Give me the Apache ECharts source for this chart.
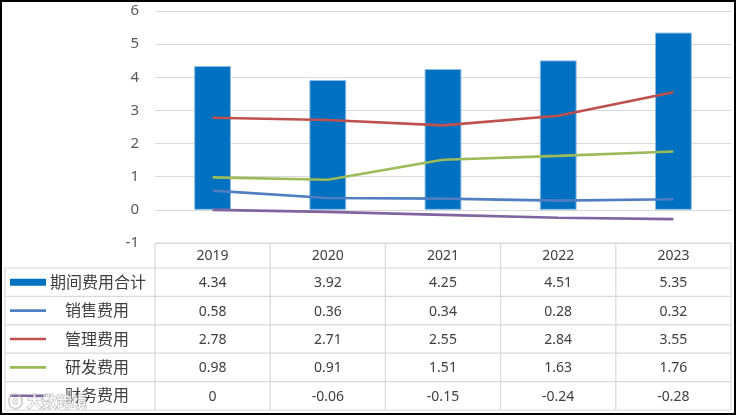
<!DOCTYPE html>
<html>
<head>
<meta charset="utf-8">
<script src="https://cdn.jsdelivr.net/npm/echarts@6/dist/echarts.min.js"></script>
<style>
html,body{margin:0;padding:0;background:#fff;}
#c{width:736px;height:415px;}
</style>
</head>
<body>
<div id="c"></div>
<script>
const years = ['2019', '2020', '2021', '2022', '2023'];
const seriesNames = ['期间费用合计', '销售费用', '管理费用', '研发费用', '财务费用'];
const totalExp = [4.34, 3.92, 4.25, 4.51, 5.35];
const salesExp = [0.58, 0.36, 0.34, 0.28, 0.32];
const adminExp = [2.78, 2.71, 2.55, 2.84, 3.55];
const rdExp = [0.98, 0.91, 1.51, 1.63, 1.76];
const finExp = [0, -0.06, -0.15, -0.24, -0.28];
const yMin = -1, yMax = 6, yStep = 1;

const colors = ['#0070C0', '#4F7EC2', '#C0504D', '#9BBB59', '#8064A2'];
const allData = [totalExp, salesExp, adminExp, rdExp, finExp];
const FONT = '"Noto Sans", "Noto Sans CJK SC", sans-serif';

const chart = echarts.init(document.getElementById('c'), null, {renderer: 'canvas'});
const gridLeft = 155, gridRight = 5, gridTop = 11, gridBottom = 172;

const series = [{
  name: seriesNames[0], type: 'bar', data: totalExp, barWidth: '32%',
  itemStyle: {color: colors[0], borderColor: '#8FBCE6', borderWidth: 1},
  z: 2
}];
for (let i = 1; i < 5; i++) {
  series.push({
    name: seriesNames[i], type: 'line', data: allData[i], symbol: 'none',
    lineStyle: {color: colors[i], width: 2.6}, itemStyle: {color: colors[i]}, z: 3
  });
}

chart.setOption({
  animation: false,
  backgroundColor: '#fff',
  grid: {left: gridLeft, right: gridRight, top: gridTop, bottom: gridBottom, containLabel: false},
  xAxis: {
    type: 'category', data: years, boundaryGap: true,
    axisLine: {show: false}, axisTick: {show: false}, axisLabel: {show: false}
  },
  yAxis: {
    type: 'value', min: yMin, max: yMax, interval: yStep,
    axisLine: {show: false}, axisTick: {show: false},
    axisLabel: {color: '#595959', fontSize: 15, fontFamily: FONT, margin: 16},
    splitLine: {lineStyle: {color: '#D9D9D9', width: 1.2}}
  },
  series: series
});

// Data table under the plot
const W = 736, H = 415;
const tableTop = H - gridBottom;          // y of -1 line
const headerBottom = tableTop + 25;
const rowH = 28.4;
const tableRight = W - gridRight;
const legendLeft = 5;
const g = [];
const lineColor = '#D9D9D9';
function hline(y, x1, x2) {
  g.push({type: 'line', silent: true, shape: {x1: x1, y1: y, x2: x2, y2: y}, style: {stroke: lineColor, lineWidth: 1.2}});
}
function vline(x, y1, y2) {
  g.push({type: 'line', silent: true, shape: {x1: x, y1: y1, x2: x, y2: y2}, style: {stroke: lineColor, lineWidth: 1.2}});
}
const colW = (tableRight - gridLeft) / years.length;
const tableBottom = headerBottom + rowH * seriesNames.length;
hline(tableTop, gridLeft, tableRight);
for (let r = 0; r <= seriesNames.length; r++) hline(headerBottom + r * rowH, legendLeft, tableRight);
vline(legendLeft, headerBottom, tableBottom);
for (let c = 0; c <= years.length; c++) vline(gridLeft + c * colW, tableTop, tableBottom);

years.forEach((yr, c) => {
  const cx = chart.convertToPixel({xAxisIndex: 0}, yr);
  g.push({type: 'text', silent: true, x: cx, y: (tableTop + headerBottom) / 2 + 1,
    style: {text: yr, fill: '#404040', font: '14px ' + FONT, align: 'center', verticalAlign: 'middle'}});
  allData.forEach((arr, r) => {
    g.push({type: 'text', silent: true, x: cx, y: headerBottom + r * rowH + rowH / 2 + 1,
      style: {text: String(arr[c]), fill: '#404040', font: '14px ' + FONT, align: 'center', verticalAlign: 'middle'}});
  });
});
seriesNames.forEach((nm, r) => {
  const cy = headerBottom + r * rowH + rowH / 2;
  if (r === 0) {
    g.push({type: 'rect', silent: true, shape: {x: 10, y: cy - 3.5, width: 36, height: 7}, style: {fill: colors[0]}});
  } else {
    g.push({type: 'line', silent: true, shape: {x1: 10, y1: cy, x2: 46, y2: cy}, style: {stroke: colors[r], lineWidth: 2.6}});
  }
  g.push({type: 'text', silent: true, x: r === 0 ? 50 : 65, y: cy + 1,
    style: {text: nm, fill: '#404040', font: '16px ' + FONT, align: 'left', verticalAlign: 'middle'}});
});
// watermark
g.push({type: 'text', silent: true, x: 8, y: 403, z: 100,
  style: {text: 'ⓒ 大数跨境', fill: 'rgba(255,255,255,0.75)', stroke: 'rgba(120,120,120,0.55)', lineWidth: 1,
    font: 'bold 15px ' + FONT, align: 'left', verticalAlign: 'middle'}});
// outer frame
g.push({type: 'rect', silent: true, z: 100, shape: {x: 1, y: 1, width: W - 2, height: H - 2},
  style: {fill: 'none', stroke: '#000', lineWidth: 2}});

chart.setOption({graphic: g});
</script>
</body>
</html>
